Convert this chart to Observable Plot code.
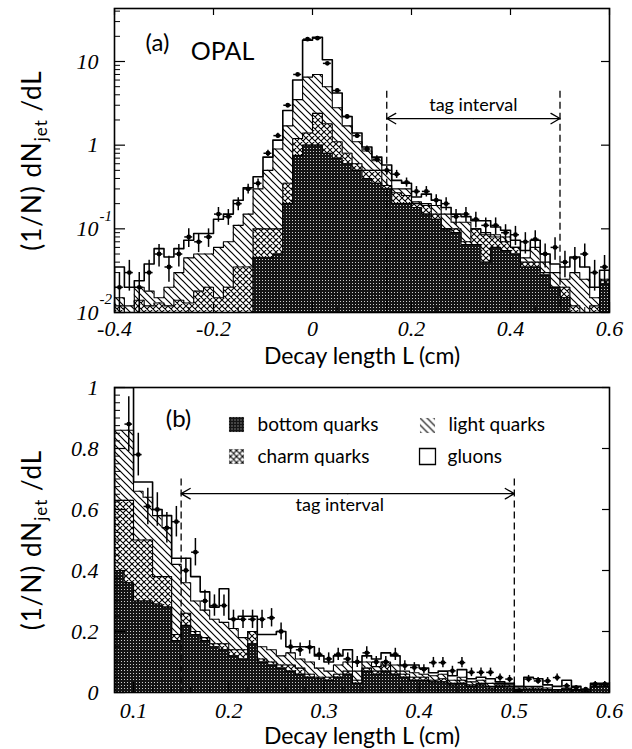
<!DOCTYPE html>
<html><head><meta charset="utf-8">
<script src="https://cdn.jsdelivr.net/npm/d3@7"></script>
<script src="https://cdn.jsdelivr.net/npm/@observablehq/plot@0.6"></script>
<style>
body{margin:0;background:#fff;}
#chart{width:632px;height:749px;position:relative;background:#fff;}
#chart svg{display:block;}
</style></head><body>
<svg width="0" height="0" style="position:absolute">
<defs>
<pattern id="pBottom" patternUnits="userSpaceOnUse" width="3" height="3"><rect width="3" height="3" fill="#151515"/><rect x="1" y="1" width="1" height="1" fill="#fff" fill-opacity="0.8"/></pattern>
<pattern id="pCharm" patternUnits="userSpaceOnUse" width="6" height="6"><rect width="6" height="6" fill="#fff"/><path d="M-1,-1L7,7M-1,5L1,7M5,-1L7,1M7,-1L-1,7M-1,1L1,-1M5,7L7,5" stroke="#000" stroke-width="1.1"/></pattern>
<pattern id="pLight" patternUnits="userSpaceOnUse" width="7" height="7"><rect width="7" height="7" fill="#fff"/><path d="M-1,-1L8,8M-1,6L1,8M6,-1L8,1" stroke="#000" stroke-width="1.2"/></pattern>
</defs></svg>
<div id="chart"></div>
<script>
// ---------- Panel (a): 0.02 cm bins from -0.4 to 0.6 ----------
const binStartA = -0.4, binWidthA = 0.02;
const totalA  = [0.035,0.02,0.024,0.038,0.058,0.046,0.058,0.073,0.088,0.088, 0.13,0.15,0.22,0.31,0.42,0.72,1.15,2.6,6,18, 19.5,10.5,4.2,2.2,1.4,0.95,0.72,0.58,0.38,0.35, 0.24,0.26,0.22,0.18,0.15,0.14,0.125,0.125,0.105,0.096, 0.073,0.055,0.073,0.05,0.038,0.035,0.046,0.035,0.02,0.032];
const lightA  = [0.015,0.012,0.02,0.018,0.015,0.02,0.03,0.045,0.05,0.05, 0.06,0.07,0.11,0.15,0.3,0.5,0.9,1.7,3.5,6.5, 7,5,2.8,1.7,1.1,0.85,0.65,0.5,0.3,0.3, 0.21,0.2,0.19,0.15,0.12,0.12,0.1,0.09,0.085,0.08, 0.06,0.045,0.06,0.04,0.03,0.025,0.03,0.025,0.015,0.025];
const charmA  = [0.012,0.01,0.014,0.012,0.013,0.012,0.014,0.013,0.018,0.02, 0.015,0.02,0.035,0.035,0.1,0.1,0.1,0.35,1.2,1.4, 2.4,1.8,1.1,0.8,0.6,0.5,0.5,0.33,0.27,0.25, 0.2,0.19,0.15,0.1,0.1,0.07,0.1,0.085,0.08,0.07, 0.06,0.04,0.04,0.03,0.02,0.02,0.012,0.01,0.012,0.024];
const bottomA = [0.001,0.001,0.001,0.001,0.001,0.001,0.001,0.001,0.001,0.001, 0.001,0.001,0.001,0.001,0.045,0.045,0.05,0.2,0.75,1.0, 1.0,0.8,0.7,0.6,0.5,0.4,0.35,0.3,0.2,0.2, 0.18,0.15,0.13,0.1,0.09,0.065,0.065,0.04,0.06,0.055, 0.05,0.035,0.035,0.028,0.02,0.015,0.008,0.006,0.007,0.022];
const dataA   = [0.02,0.03,0.02,0.03,0.05,0.035,0.05,0.08,0.07,0.08, 0.15,0.14,0.2,0.3,0.35,0.8,1.3,3.0,7,18.5, 19,9.5,4.5,2.2,1.3,0.9,0.68,0.5,0.45,0.36, 0.28,0.28,0.22,0.2,0.14,0.15,0.13,0.11,0.11,0.09, 0.085,0.07,0.075,0.05,0.06,0.04,0.045,0.05,0.03,0.035];
const errA    = [0.01,0.012,0.01,0.012,0.015,0.012,0.015,0.02,0.018,0.02, 0.03,0.03,0.035,0.04,0.045,0.07,0.09,0.14,0.2,0.35, 0.35,0.25,0.17,0.12,0.09,0.075,0.065,0.055,0.05,0.045, 0.04,0.04,0.035,0.035,0.03,0.03,0.028,0.025,0.025,0.022, 0.022,0.02,0.02,0.016,0.018,0.014,0.015,0.016,0.012,0.013];

// ---------- Panel (b): 0.01 cm bins from 0.08 to 0.6 ----------
const binStartB = 0.08, binWidthB = 0.01;
const totalB  = [1.0,1.0,0.69,0.69,0.6,0.58,0.44,0.44,0.38,0.33, 0.28,0.34,0.24,0.25,0.25,0.19,0.19,0.2,0.15,0.15, 0.15,0.12,0.1,0.12,0.14,0.1,0.12,0.11,0.13,0.12, 0.09,0.09,0.08,0.065,0.07,0.055,0.075,0.045,0.05,0.045, 0.035,0.03,0.02,0.05,0.045,0.025,0.02,0.04,0.02,0.01, 0.03,0.03];
const lightB  = [0.86,0.86,0.66,0.64,0.58,0.54,0.42,0.36,0.3,0.27, 0.24,0.23,0.21,0.18,0.2,0.15,0.14,0.12,0.13,0.11, 0.1,0.08,0.07,0.09,0.1,0.07,0.1,0.085,0.1,0.09, 0.07,0.065,0.06,0.055,0.06,0.04,0.05,0.035,0.04,0.03, 0.03,0.025,0.015,0.02,0.02,0.015,0.01,0.015,0.01,0.008, 0.025,0.028];
const charmB  = [0.63,0.63,0.5,0.5,0.38,0.38,0.19,0.26,0.2,0.18, 0.16,0.16,0.14,0.14,0.2,0.11,0.1,0.09,0.09,0.08, 0.06,0.05,0.05,0.06,0.07,0.04,0.08,0.07,0.09,0.07, 0.06,0.05,0.05,0.04,0.045,0.03,0.04,0.025,0.03,0.02, 0.025,0.02,0.01,0.015,0.015,0.01,0.008,0.012,0.008,0.005, 0.02,0.025];
const bottomB = [0.4,0.36,0.3,0.3,0.29,0.28,0.17,0.22,0.19,0.17, 0.15,0.14,0.12,0.11,0.16,0.1,0.09,0.08,0.07,0.06, 0.05,0.045,0.04,0.05,0.06,0.03,0.07,0.06,0.07,0.06, 0.05,0.04,0.04,0.035,0.035,0.025,0.03,0.02,0.025,0.015, 0.02,0.015,0.008,0.01,0.01,0.008,0.005,0.01,0.006,0.004, 0.018,0.02];
const dataB   = [null,0.88,0.78,0.61,0.60,0.54,0.56,0.40,0.46,0.30, 0.285,0.285,0.24,0.24,0.24,0.24,0.245,0.20,0.15,0.14, 0.148,0.125,0.11,0.125,0.11,0.10,0.13,0.10,0.10,0.125, 0.088,0.082,0.076,0.098,0.098,0.071,0.098,0.066,0.066,0.066, 0.049,0.044,0.006,0.044,0.038,0.038,0.049,0.022,0.016,0.011, 0.027,0.027];
const errB    = [null,0.09,0.07,0.06,0.055,0.05,0.05,0.04,0.045,0.035, 0.035,0.035,0.03,0.03,0.03,0.03,0.03,0.028,0.022,0.022, 0.022,0.02,0.02,0.02,0.02,0.018,0.02,0.018,0.018,0.02, 0.016,0.016,0.015,0.017,0.017,0.015,0.017,0.014,0.014,0.014, 0.012,0.012,0.005,0.012,0.011,0.011,0.012,0.008,0.007,0.005, 0.009,0.009];

// ---------- ticks and labels ----------
const xTicksA = [-0.4,-0.2,0,0.2,0.4,0.6];
const yTicksA = [0.01,0.1,1,10];
const yTickBaseA = ["10","10","1","10"];
const yTickExpA = ["-2","-1","",""];
const xTicksB = [0.1,0.2,0.3,0.4,0.5,0.6];
const yTicksB = [0,0.2,0.4,0.6,0.8,1];
const tagInterval = [0.15, 0.5];
const legendLabels = ["bottom quarks","charm quarks","light quarks","gluons"];
const xTitle = "Decay length L (cm)";

// ---------- layout ----------
const W = 632, mL = 114, mR = 23;
const FW = W - mL - mR;
const SANS = "Lato, 'DejaVu Sans', sans-serif";
const SERIF = "'Liberation Serif', 'DejaVu Serif', serif";
const C = {textAnchor: "middle", lineAnchor: "middle"};

function steps(vals, start, w, base) {
  const pts = [{x: start, y: base}];
  vals.forEach((v, i) => pts.push({x: start + i * w, y: v}));
  pts.push({x: start + vals.length * w, y: vals[vals.length - 1]});
  pts.push({x: start + vals.length * w, y: base});
  return pts;
}
function crosses(vals, errs, start, w, floor) {
  const out = [];
  vals.forEach((v, i) => {
    if (v == null) return;
    out.push({x: start + (i + 0.5) * w, x1: start + i * w + w * 0.1, x2: start + (i + 1) * w - w * 0.1,
              y: v, lo: Math.max(v - errs[i], floor), hi: v + errs[i]});
  });
  return out;
}
function histMarks(series, start, w, base) {
  const fills = ["white", "url(#pLight)", "url(#pCharm)", "url(#pBottom)"];
  const marks = [];
  const pts = series.map(s => steps(s, start, w, base));
  pts.forEach((p, k) => marks.push(Plot.area(p, {x1: "x", y1: () => base, y2: "y", curve: "step-after", fill: fills[k], clip: true})));
  pts.forEach((p, k) => marks.push(Plot.line(p, {x: "x", y: "y", curve: "step-after", stroke: "black", strokeWidth: k === 0 ? 1.6 : 1.1, clip: true})));
  return marks;
}
function crossMarks(rows) {
  return [
    Plot.ruleX(rows, {x: "x", y1: "lo", y2: "hi", stroke: "black", strokeWidth: 1.5, clip: true}),
    Plot.ruleY(rows, {y: "y", x1: "x1", x2: "x2", stroke: "black", strokeWidth: 1.5, clip: true}),
    Plot.dot(rows, {x: "x", y: "y", r: 2.4, fill: "black", clip: true})
  ];
}
function fixYTitle(svg) {
  svg.querySelectorAll("text").forEach(t => {
    if (t.textContent === "__YT__") {
      t.setAttribute("letter-spacing", "1");
      t.innerHTML = '(1/N) dN<tspan dy="6" font-size="17">jet</tspan><tspan dy="-6"> /dL</tspan>';
    }
  });
}

const tagMid = (tagInterval[0] + tagInterval[1]) / 2;

// ---------- Panel (a) ----------
const HA = 372, mTA = 8, mBA = 60, FHA = HA - mTA - mBA;
const baseA = 0.001;
const yMinorA = [];
[0.01, 0.1, 1, 10].forEach(p => [2,3,4,5,6,7,8,9].forEach(m => { if (m * p < 43) yMinorA.push(m * p); }));
const xMinorA = d3.range(-0.35, 0.6, 0.1);

const plotA = Plot.plot({
  width: W, height: HA, marginLeft: mL, marginRight: mR, marginTop: mTA, marginBottom: mBA,
  style: {fontFamily: SANS, background: "white", overflow: "visible"},
  x: {domain: [-0.4, 0.6], axis: null},
  y: {type: "log", domain: [0.01, 43], axis: null},
  marks: [
    ...histMarks([totalA, lightA, charmA, bottomA], binStartA, binWidthA, baseA),
    Plot.ruleX(tagInterval, {x: d => d, y1: () => 4.4, y2: () => 0.01, stroke: "black", strokeWidth: 1.3, strokeDasharray: "7,4"}),
    Plot.arrow([tagInterval[0], tagInterval[1]], {x1: () => tagMid, x2: d => d, y1: () => 2.08, y2: () => 2.08, headLength: 12, strokeWidth: 1.3, stroke: "black"}),
    Plot.text(["tag interval"], {...C, x: () => tagMid, frameAnchor: "top", dy: 97, fontSize: 18, fontFamily: SANS}),
    ...crossMarks(crosses(dataA, errA, binStartA, binWidthA, 0.001)),
    Plot.tickY(yTicksA, {y: d => d, insetRight: FW - 11, stroke: "black", strokeWidth: 1.2}),
    Plot.tickY(yMinorA, {y: d => d, insetRight: FW - 6, stroke: "black", strokeWidth: 1}),
    Plot.tickY(yTicksA, {y: d => d, insetLeft: FW - 8, stroke: "black", strokeWidth: 1.2}),
    Plot.tickX(xTicksA, {x: d => d, insetTop: FHA - 10, stroke: "black", strokeWidth: 1.2}),
    Plot.tickX(xMinorA, {x: d => d, insetTop: FHA - 5, stroke: "black", strokeWidth: 1}),
    Plot.tickX(xTicksA, {x: d => d, insetBottom: FHA - 7, stroke: "black", strokeWidth: 1.2}),
    Plot.frame({stroke: "black", strokeWidth: 1.6}),
    Plot.text(xTicksA, {...C, x: d => d, frameAnchor: "bottom", dy: 16, text: d => String(d), fontFamily: SERIF, fontStyle: "italic", fontSize: 22}),
    Plot.text(yTicksA, {y: d => d, frameAnchor: "left", dx: -16, textAnchor: "end", lineAnchor: "middle", text: (d, i) => yTickBaseA[i], fontFamily: SERIF, fontStyle: "italic", fontSize: 22}),
    Plot.text(yTicksA, {y: d => d, frameAnchor: "left", dx: -15, dy: -13, textAnchor: "start", lineAnchor: "middle", text: (d, i) => yTickExpA[i], fontFamily: SERIF, fontStyle: "italic", fontSize: 15}),
    Plot.text([xTitle], {...C, frameAnchor: "bottom", dy: 44, fontSize: 23, fontFamily: SANS}),
    Plot.text(["__YT__"], {...C, frameAnchor: "left", dx: -82, rotate: -90, fontSize: 26, fontFamily: SANS}),
    Plot.text(["(a)"], {...C, frameAnchor: "top-left", dx: 43, dy: 35, fontSize: 24, fontFamily: SANS}),
    Plot.text(["OPAL"], {...C, frameAnchor: "top-left", dx: 108, dy: 43, fontSize: 25, fontFamily: SANS})
  ]
});
fixYTitle(plotA);

// ---------- Panel (b) ----------
const HB = 377, mTB = 15, mBB = 57, FHB = HB - mTB - mBB;
const yMinorB = d3.range(0.025, 1, 0.025);
const xMinorB = d3.range(0.08, 0.6, 0.02);
const L = {textAnchor: "start", lineAnchor: "middle", frameAnchor: "top-left", fontSize: 19, fontFamily: SANS};

const plotB = Plot.plot({
  width: W, height: HB, marginLeft: mL, marginRight: mR, marginTop: mTB, marginBottom: mBB,
  style: {fontFamily: SANS, background: "white", overflow: "visible"},
  x: {domain: [0.08, 0.6], axis: null},
  y: {domain: [0, 1], axis: null},
  marks: [
    ...histMarks([totalB, lightB, charmB, bottomB], binStartB, binWidthB, 0),
    Plot.ruleX(tagInterval, {x: d => d, y1: () => 0.7, y2: () => 0, stroke: "black", strokeWidth: 1.3, strokeDasharray: "7,4"}),
    Plot.arrow([tagInterval[0], tagInterval[1]], {x1: () => tagMid, x2: d => d, y1: () => 0.652, y2: () => 0.652, headLength: 12, strokeWidth: 1.3, stroke: "black"}),
    Plot.text(["tag interval"], {...C, x: () => tagMid, frameAnchor: "top", dx: -8, dy: 118, fontSize: 18, fontFamily: SANS}),
    ...crossMarks(crosses(dataB, errB, binStartB, binWidthB, 0)),
    Plot.tickY(yTicksB, {y: d => d, insetRight: FW - 11, stroke: "black", strokeWidth: 1.2}),
    Plot.tickY(yMinorB, {y: d => d, insetRight: FW - 6, stroke: "black", strokeWidth: 1}),
    Plot.tickY(yTicksB, {y: d => d, insetLeft: FW - 7, stroke: "black", strokeWidth: 1.2}),
    Plot.tickX(xTicksB, {x: d => d, insetTop: FHB - 10, stroke: "black", strokeWidth: 1.2}),
    Plot.tickX(xMinorB, {x: d => d, insetTop: FHB - 5, stroke: "black", strokeWidth: 1}),
    Plot.frame({stroke: "black", strokeWidth: 1.6}),
    Plot.text(xTicksB, {...C, x: d => d, frameAnchor: "bottom", dy: 18, text: d => String(d), fontFamily: SERIF, fontStyle: "italic", fontSize: 22}),
    Plot.text(yTicksB, {y: d => d, frameAnchor: "left", dx: -16, textAnchor: "end", lineAnchor: "middle", text: d => String(d), fontFamily: SERIF, fontStyle: "italic", fontSize: 22}),
    Plot.text([xTitle], {...C, frameAnchor: "bottom", dy: 44, fontSize: 23, fontFamily: SANS}),
    Plot.text(["__YT__"], {...C, frameAnchor: "left", dx: -82, rotate: -90, fontSize: 26, fontFamily: SANS}),
    Plot.text(["(b)"], {...C, frameAnchor: "top-left", dx: 64, dy: 32, fontSize: 24, fontFamily: SANS}),
    // legend
    Plot.dot([0], {frameAnchor: "top-left", dx: 122, dy: 37, symbol: "square", r: 8.5, fill: "url(#pBottom)"}),
    Plot.dot([0], {frameAnchor: "top-left", dx: 122, dy: 69, symbol: "square", r: 8.5, fill: "url(#pCharm)"}),
    Plot.dot([0], {frameAnchor: "top-left", dx: 313, dy: 38, symbol: "square", r: 8.5, fill: "url(#pLight)"}),
    Plot.dot([0], {frameAnchor: "top-left", dx: 313, dy: 69, symbol: "square", r: 9, fill: "white", stroke: "black", strokeWidth: 1.3}),
    Plot.text([legendLabels[0]], {...L, dx: 143, dy: 37}),
    Plot.text([legendLabels[1]], {...L, dx: 143, dy: 69}),
    Plot.text([legendLabels[2]], {...L, dx: 334, dy: 37}),
    Plot.text([legendLabels[3]], {...L, dx: 333, dy: 69})
  ]
});
fixYTitle(plotB);

const chart = document.getElementById("chart");
chart.appendChild(plotA);
chart.appendChild(plotB);
</script>
</body></html>
